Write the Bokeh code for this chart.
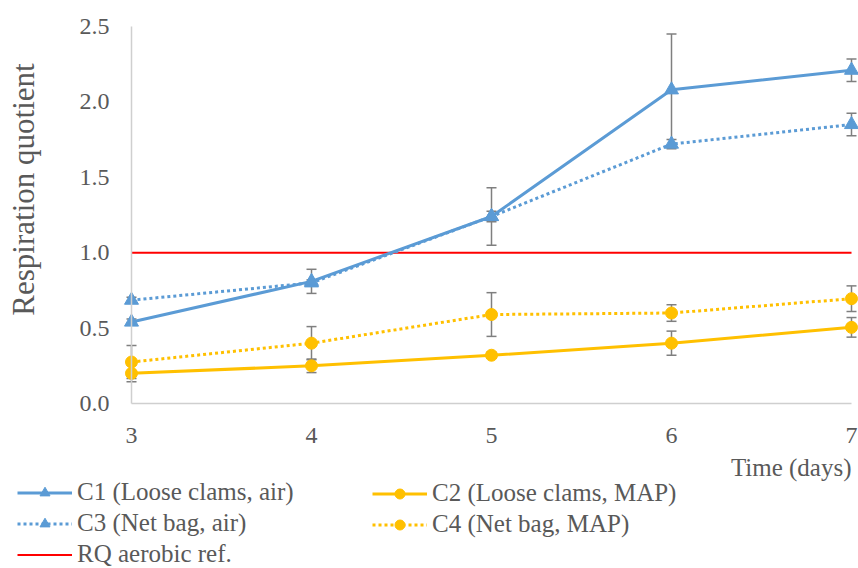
import math
from bokeh.plotting import figure
from bokeh.models import (Range1d, FixedTicker, NumeralTickFormatter, Legend, LegendItem,
                          Label, Whisker, TeeHead, ColumnDataSource)
from bokeh.embed import file_html
from bokeh.resources import INLINE

# Respiration quotient of stored clams, mean ± SD per storage day
days = [3, 4, 5, 6, 7]
c1_mean = [0.54, 0.81, 1.24, 2.08, 2.21]
c1_sd = [0.02, 0.08, 0.19, 0.37, 0.075]
c2_mean = [0.20, 0.25, 0.32, 0.40, 0.505]
c2_sd = [0.055, 0.045, 0.02, 0.08, 0.065]
c3_mean = [0.685, 0.80, 1.24, 1.72, 1.85]
c3_sd = [0.02, 0.02, 0.035, 0.03, 0.075]
c4_mean = [0.275, 0.40, 0.59, 0.60, 0.695]
c4_sd = [0.11, 0.11, 0.145, 0.055, 0.085]
rq_ref = 1.0

y_ticks = [0.0, 0.5, 1.0, 1.5, 2.0, 2.5]

BLUE = "#5B9BD5"
GOLD = "#FFC000"
RED = "#FF0000"
TEXT = "#595959"
FONT = "Liberation Serif"

# The frame covers the whole canvas so that titles and the legend can sit
# around the data area; the axes are pinned to x=3 and y=0.
W, H = 858, 568
LEFT, RIGHT, TOP, BOTTOM = 131, 851, 26, 403      # pixel box of the data area
X0, X1 = days[0], days[-1]
Y0, Y1 = y_ticks[0], y_ticks[-1]
sx = (X1 - X0) / (RIGHT - LEFT)
sy = (Y1 - Y0) / (BOTTOM - TOP)


def px_x(px):
    return X0 + (px - LEFT) * sx


def px_y(py):
    return Y0 + (BOTTOM - py) * sy


p = figure(frame_width=W, frame_height=H, min_border=0,
           x_range=Range1d(px_x(0), px_x(W)), y_range=Range1d(px_y(H), px_y(0)),
           output_backend="svg", toolbar_location=None)
p.title.visible = False
p.xgrid.visible = False
p.ygrid.visible = False
p.outline_line_color = None

for ax in (p.xaxis[0], p.yaxis[0]):
    ax.axis_line_color = "#CFCFCF"
    ax.axis_line_width = 1.5
    ax.major_tick_line_color = None
    ax.minor_tick_line_color = None
    ax.major_label_text_font = FONT
    ax.major_label_text_font_size = "24px"
    ax.major_label_text_color = TEXT

p.xaxis.fixed_location = Y0
p.xaxis.bounds = (X0, X1)
p.xaxis.ticker = FixedTicker(ticks=days)
p.xaxis.major_label_standoff = 18
p.yaxis.fixed_location = X0
p.yaxis.bounds = (Y0, Y1)
p.yaxis.ticker = FixedTicker(ticks=y_ticks)
p.yaxis.formatter = NumeralTickFormatter(format="0.0")
p.yaxis.major_label_standoff = 16

for mean, sd in ((c1_mean, c1_sd), (c2_mean, c2_sd), (c3_mean, c3_sd), (c4_mean, c4_sd)):
    src = ColumnDataSource(dict(x=days,
                                upper=[m + s for m, s in zip(mean, sd)],
                                lower=[m - s for m, s in zip(mean, sd)]))
    p.add_layout(Whisker(source=src, base="x", upper="upper", lower="lower",
                         line_color="#7F7F7F", line_width=1.5,
                         upper_head=TeeHead(size=10, line_color="#7F7F7F", line_width=1.5),
                         lower_head=TeeHead(size=10, line_color="#7F7F7F", line_width=1.5)))

rq = [p.line([X0, X1], [rq_ref, rq_ref], line_color=RED, line_width=2)]


def draw_series(values, color, marker, dashed):
    line = p.line(days, values, line_color=color, line_width=3, line_join="round",
                  line_dash="3 3" if dashed else "solid")
    pts = p.scatter(days, values, marker=marker, size=14 if marker == "triangle" else 12,
                    fill_color=color, line_color=color)
    return [line, pts]


c4 = draw_series(c4_mean, GOLD, "circle", True)
c2 = draw_series(c2_mean, GOLD, "circle", False)
c3 = draw_series(c3_mean, BLUE, "triangle", True)
c1 = draw_series(c1_mean, BLUE, "triangle", False)

# axis titles
p.add_layout(Label(x=px_x(23), y=px_y(189), text="Respiration quotient", angle=math.pi / 2,
                   text_align="center", text_baseline="middle", text_font=FONT,
                   text_font_size="31px", text_color=TEXT))
p.add_layout(Label(x=X1, y=px_y(467), text="Time (days)", text_align="right",
                   text_baseline="middle", text_font=FONT, text_font_size="25px",
                   text_color=TEXT))


def add_legend(items, loc):
    p.add_layout(Legend(items=[LegendItem(label=t, renderers=r) for t, r in items],
                        location=loc, orientation="vertical",
                        glyph_width=55, glyph_height=25, label_height=25,
                        label_standoff=5, spacing=3, padding=0, margin=0,
                        border_line_color=None, background_fill_alpha=0,
                        label_text_font=FONT, label_text_font_size="25px",
                        label_text_color=TEXT))


add_legend([("C1 (Loose clams, air)", c1), ("C3 (Net bag, air)", c3),
            ("RQ aerobic ref.", rq)], (17, 0))
add_legend([("C2 (Loose clams, MAP)", c2), ("C4 (Net bag, MAP)", c4)], (372, 30))

open("out.html", "w").write(file_html(p, INLINE))
